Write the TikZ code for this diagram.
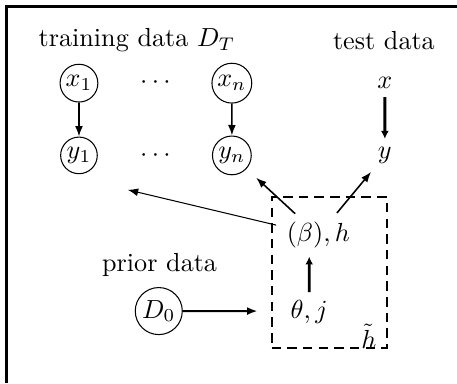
\documentclass[tikz,border=0pt]{standalone}
\usetikzlibrary{arrows.meta}
\begin{document}
\begin{tikzpicture}[scale=1.13,>={Latex[length=4pt,width=3pt]},
		var/.style={circle,draw,inner sep=1pt},
		obs/.style={inner sep=3pt},
		par/.style={inner sep=1pt},
		heavy/.style={line width=1.1pt,-{Latex[length=3pt,width=3pt]}}]
		\useasboundingbox (0,0) rectangle (5.44,4.56);
		\draw[line width=1pt] (0.08,0) -- (0.08,4.48) -- (5.44,4.48);
		\node (train) at (1.63,4.08) {training data $D_T$};
		\node (test) at (4.57,4.08) {test data};
		\node[var] (x1) at (0.94,3.57) {$x_1$};
		\node (xdots) at (1.85,3.57) {$\cdots$};
		\node[var] (xn) at (2.76,3.57) {$x_n$};
		\node[obs] (x) at (4.58,3.57) {$x$};
		\node[var] (y1) at (0.94,2.71) {$y_1$};
		\node (ydots) at (1.85,2.71) {$\cdots$};
		\node[var] (yn) at (2.76,2.71) {$y_n$};
		\node[obs] (y) at (4.58,2.71) {$y$};
		\node[draw,thick,dash pattern=on 3.6pt off 2.4pt,minimum width=1.55cm,minimum height=2.03cm] (box) at (3.92,1.315) {};
		\node[par] (beta) at (3.79,1.76) {$(\beta),h$};
		\node[par] (theta) at (3.68,0.845) {$\theta,j$};
		\node (htilde) at (4.39,0.56) {$\tilde{h}$};
		\node (prior) at (1.9,1.4) {prior data};
		\node[var] (D0) at (1.89,0.857) {$D_0$};
		\coordinate (left) at (1.52,2.3);
		\draw[semithick,->] (x1) -- (y1);
		\draw[semithick,->] (xn) -- (yn);
		\draw[heavy] (x) -- (y);
		\draw[->,shorten <=3pt] (beta) -- (left);
		\draw[semithick,->,shorten <=3pt,shorten >=5pt] (beta) -- (yn);
		\draw[semithick,->,shorten <=3pt] (beta) -- (y);
		\draw[heavy,shorten <=2pt,shorten >=2pt] (theta) -- (theta |- beta.south);
		\draw[thick,->,shorten >=5pt] (D0) -- (D0 -| box.west);
	\end{tikzpicture}
\end{document}
